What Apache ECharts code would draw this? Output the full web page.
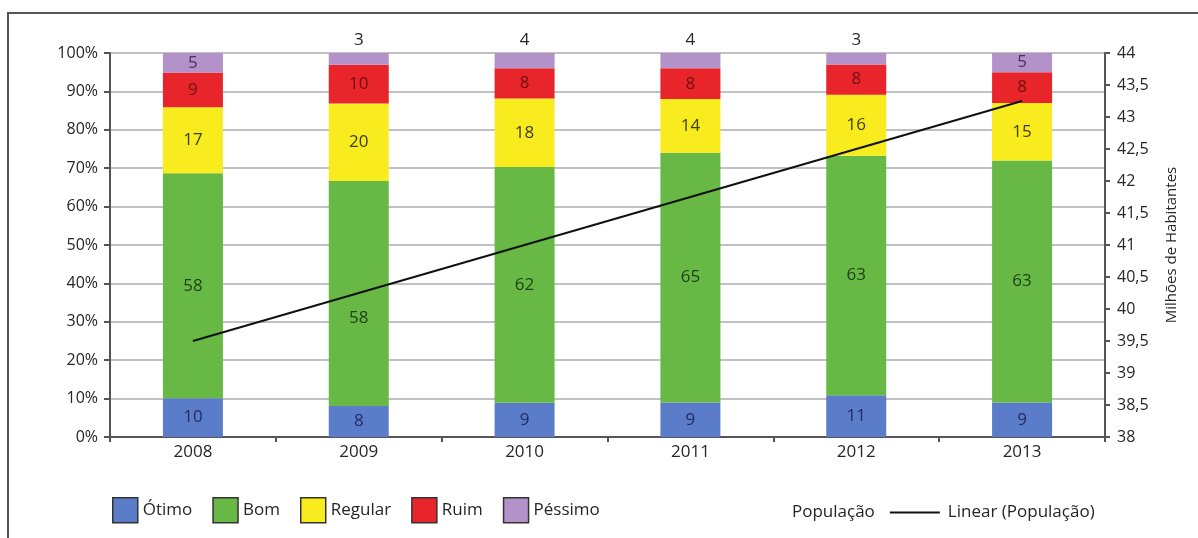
<!DOCTYPE html>
<html>
<head>
<meta charset="utf-8">
<script src="https://cdn.jsdelivr.net/npm/echarts@6/dist/echarts.min.js"></script>
<style>
  html, body { margin: 0; padding: 0; background: #ffffff; }
  #chart { width: 1198px; height: 538px; }
</style>
</head>
<body>
<div id="chart"></div>
<script>
// Avaliação por ano (valores em %)
const years   = ['2008', '2009', '2010', '2011', '2012', '2013'];
const otimo   = [10, 8, 9, 9, 11, 9];
const bom     = [58, 58, 62, 65, 63, 63];
const regular = [17, 20, 18, 14, 16, 15];
const ruim    = [9, 10, 8, 8, 8, 8];
const pessimo = [5, 3, 4, 4, 3, 5];

// Tendência linear da população (milhões de habitantes), início e fim
const linearPop = [39.5, null, null, null, null, 43.25];

const leftTicks  = { min: 0, max: 100, interval: 10 };
const rightTicks = { min: 38, max: 44, interval: 0.5 };

const FONT = '"Open Sans", "Noto Sans", sans-serif';
const TXT = '#262626';

// Colunas empilhadas a 100%: cada segmento é a sua parte do total do ano
const totals = years.map((_, i) => otimo[i] + bom[i] + regular[i] + ruim[i] + pessimo[i]);
const share = (arr) => arr.map((v, i) => ({ value: v / totals[i] * 100, raw: v }));

// labelOffsets: deslocamento opcional do rótulo por ano (evita a linha de tendência)
function barSeries(name, arr, color, labelColor, smallTop, labelOffsets) {
  return {
    name: name,
    type: 'bar',
    stack: 'total',
    barWidth: 60,
    itemStyle: { color: color },
    data: share(arr).map((d, i) => {
      const item = { value: d.value, raw: d.raw };
      if (smallTop && d.raw < 5) {
        item.label = { position: 'top', color: TXT, distance: 4 };
      }
      if (labelOffsets && labelOffsets[i]) {
        item.label = Object.assign({}, item.label, { offset: labelOffsets[i] });
      }
      return item;
    }),
    label: {
      show: true,
      position: 'inside',
      fontFamily: FONT,
      fontSize: 17,
      color: labelColor,
      formatter: p => String(p.data.raw)
    },
    emphasis: { disabled: true }
  };
}

const chart = echarts.init(document.getElementById('chart'), null, { renderer: 'canvas' });

chart.setOption({
  backgroundColor: '#ffffff',
  animation: false,
  textStyle: { fontFamily: FONT, color: TXT },
  graphic: [{
    type: 'rect',
    shape: { x: 8, y: 13, width: 1200, height: 540 },
    style: { fill: 'none', stroke: '#555555', lineWidth: 2 },
    silent: true
  }],
  grid: { left: 110, right: 93, top: 53, bottom: 101, containLabel: false },
  legend: [{
    left: 107,
    top: 492,
    itemWidth: 25,
    itemHeight: 25,
    itemGap: 20,
    icon: 'rect',
    selectedMode: false,
    itemStyle: { borderColor: '#333333', borderWidth: 1.5 },
    textStyle: { fontFamily: FONT, fontSize: 17, color: TXT },
    data: ['Ótimo', 'Bom', 'Regular', 'Ruim', 'Péssimo']
  }, {
    left: 729,
    top: 499,
    itemWidth: 50,
    itemHeight: 2,
    itemGap: 15,
    icon: 'rect',
    selectedMode: false,
    itemStyle: { color: '#111111', borderWidth: 0 },
    textStyle: { fontFamily: FONT, fontSize: 17, color: TXT, padding: [0, 0, 0, 3] },
    data: [
      { name: 'População', itemStyle: { opacity: 0 } },
      { name: 'Linear (População)' }
    ]
  }],
  xAxis: {
    type: 'category',
    data: years,
    boundaryGap: true,
    axisLine: { lineStyle: { color: '#555555', width: 2 } },
    axisTick: { show: true, alignWithLabel: false, length: 5, lineStyle: { color: '#555555', width: 2 } },
    axisLabel: { fontFamily: FONT, fontSize: 17, color: TXT, margin: 7 }
  },
  yAxis: [{
    type: 'value',
    min: leftTicks.min,
    max: leftTicks.max,
    interval: leftTicks.interval,
    axisLine: { show: true, lineStyle: { color: '#555555', width: 2 } },
    axisTick: { show: true, length: 6, lineStyle: { color: '#555555', width: 2 } },
    axisLabel: { fontFamily: FONT, fontSize: 16, color: TXT, margin: 12, formatter: '{value}%' },
    splitLine: { show: true, lineStyle: { color: '#acacac', width: 1.5 } }
  }, {
    type: 'value',
    position: 'right',
    min: rightTicks.min,
    max: rightTicks.max,
    interval: rightTicks.interval,
    name: 'Milhões de Habitantes',
    nameLocation: 'middle',
    nameRotate: 90,
    nameGap: 59,
    nameTextStyle: { fontFamily: FONT, fontSize: 15, color: TXT },
    axisLine: { show: true, lineStyle: { color: '#555555', width: 2 } },
    axisTick: { show: true, length: 5, lineStyle: { color: '#555555', width: 2 } },
    axisLabel: {
      fontFamily: FONT, fontSize: 16, color: TXT, margin: 12,
      formatter: v => String(v).replace('.', ',')
    },
    splitLine: { show: false }
  }],
  series: [
    barSeries('Ótimo',   otimo,   '#5b7cc8', '#1f2c66', false),
    barSeries('Bom',     bom,     '#68b845', '#1c4416', false, [null, [0, 25]]),
    barSeries('Regular', regular, '#f8ec1e', '#403b0c', false),
    barSeries('Ruim',    ruim,    '#e8252a', '#701010', false),
    barSeries('Péssimo', pessimo, '#b391c9', '#453658', true),
    {
      name: 'População',
      type: 'line',
      yAxisIndex: 1,
      data: [],
      symbol: 'none'
    },
    {
      name: 'Linear (População)',
      type: 'line',
      yAxisIndex: 1,
      data: linearPop,
      connectNulls: true,
      symbol: 'none',
      lineStyle: { color: '#111111', width: 2 },
      itemStyle: { color: '#111111' },
      z: 10,
      emphasis: { disabled: true }
    }
  ]
});
</script>
</body>
</html>
